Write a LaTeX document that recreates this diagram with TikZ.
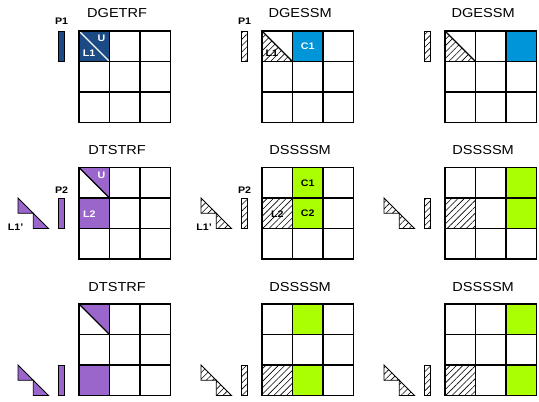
\documentclass[tikz,border=0pt]{standalone}
\usepackage{fontspec}
\setmainfont[FakeStretch=1.12]{Liberation Sans}
\usetikzlibrary{patterns.meta}

\definecolor{lublue}{HTML}{1B4A85}
\definecolor{upblue}{HTML}{0094D8}
\definecolor{tspurple}{HTML}{9A66CC}
\definecolor{ssgreen}{HTML}{AAFF00}

% helpers, used inside a panel scope (one unit = one tile, y downwards)
\newcommand{\tilegrid}{%
  \draw[gridline] (0,0) rectangle (3,3);
  \foreach \k in {1,2} {
    \draw[gridline] (\k,0) -- (\k,3);
    \draw[gridline] (0,\k) -- (3,\k);
  }}
\newcommand{\pivotbar}[2]{\draw[thinline, #2] (-0.66,#1) rectangle (-0.49,#1+1);}
\newcommand{\stairtris}[2]{%
  \draw[thinline, #2] (-2,#1) -- (-2,#1+0.5) -- (-1.5,#1+0.5) -- cycle;
  \draw[thinline, #2] (-1.5,#1+0.5) -- (-1.5,#1+1) -- (-1,#1+1) -- cycle;}
\newcommand{\tile}[3]{\fill[#3] (#2,#1) rectangle (#2+1,#1+1);}

\begin{document}
\begin{tikzpicture}[x=1pt, y=-1pt,
  gridline/.style={line width=1.2pt},
  thinline/.style={line width=0.9pt},
  title/.style={font=\fontsize{13}{15}\selectfont},
  tag/.style={font=\bfseries\fontsize{9.5}{11}\selectfont, inner sep=0pt},
  hatch/.style={pattern={Lines[angle=45, distance=4.5pt, line width=0.6pt]}},
  panel/.style={shift={#1}, x=30.5pt, y=-30.5pt}]
\useasboundingbox (0,0) rectangle (539,402);

% ---- first step: DGETRF, DGESSM, DGESSM
\begin{scope}[panel={(79,31)}]
  \tile{0}{0}{lublue}
  \draw[gridline, white] (0,0) -- (1,1);
  \tilegrid
  \pivotbar{0}{fill=lublue}
  \node[tag] (p1a) at (-0.57,-0.31) {P1};
  \node[tag, white] (u1) at (0.74,0.24) {U};
  \node[tag, white] (l1a) at (0.33,0.73) {L1};
  \node[title] (getrf) at (1.25,-0.6) {DGETRF};
\end{scope}
\begin{scope}[panel={(262,31)}]
  \fill[hatch] (0,0) -- (0,1) -- (1,1) -- cycle;
  \draw[gridline] (0,0) -- (1,1);
  \tile{0}{1}{upblue}
  \tilegrid
  \pivotbar{0}{hatch}
  \node[tag] (p1b) at (-0.57,-0.31) {P1};
  \node[tag] (l1b) at (0.32,0.73) {L1};
  \node[tag, white] (c1a) at (1.5,0.5) {C1};
  \node[title] (gessma) at (1.25,-0.6) {DGESSM};
\end{scope}
\begin{scope}[panel={(445,31)}]
  \fill[hatch] (0,0) -- (0,1) -- (1,1) -- cycle;
  \draw[gridline] (0,0) -- (1,1);
  \tile{0}{2}{upblue}
  \tilegrid
  \pivotbar{0}{hatch}
  \node[title] (gessmb) at (1.25,-0.6) {DGESSM};
\end{scope}

% ---- second step: DTSTRF, DSSSSM, DSSSSM
\begin{scope}[panel={(79,167.5)}]
  \fill[tspurple] (0,0) -- (1,0) -- (1,1) -- cycle;
  \tile{1}{0}{tspurple}
  \draw[gridline] (0,0) -- (1,1);
  \tilegrid
  \pivotbar{1}{fill=tspurple}
  \stairtris{1}{fill=tspurple}
  \node[tag] (p2a) at (-0.57,0.75) {P2};
  \node[tag] (l1pa) at (-2.08,1.95) {L1'};
  \node[tag, white] (u2) at (0.74,0.26) {U};
  \node[tag, white] (l2a) at (0.34,1.53) {L2};
  \node[title] (tstrfa) at (1.25,-0.56) {DTSTRF};
\end{scope}
\begin{scope}[panel={(262,167.5)}]
  \tile{1}{0}{hatch}
  \tile{0}{1}{ssgreen}
  \tile{1}{1}{ssgreen}
  \tilegrid
  \pivotbar{1}{hatch}
  \stairtris{1}{hatch}
  \node[tag] (p2b) at (-0.57,0.75) {P2};
  \node[tag] (l1pb) at (-1.9,1.95) {L1'};
  \node[tag] (l2b) at (0.5,1.53) {L2};
  \node[tag] (c1b) at (1.5,0.5) {C1};
  \node[tag] (c2a) at (1.5,1.5) {C2};
  \node[title] (ssssma) at (1.25,-0.56) {DSSSSM};
\end{scope}
\begin{scope}[panel={(445,167.5)}]
  \tile{1}{0}{hatch}
  \tile{0}{2}{ssgreen}
  \tile{1}{2}{ssgreen}
  \tilegrid
  \pivotbar{1}{hatch}
  \stairtris{1}{hatch}
  \node[title] (ssssmb) at (1.25,-0.56) {DSSSSM};
\end{scope}

% ---- third step: DTSTRF, DSSSSM, DSSSSM
\begin{scope}[panel={(79,304)}]
  \fill[tspurple] (0,0) -- (1,0) -- (1,1) -- cycle;
  \tile{2}{0}{tspurple}
  \draw[gridline] (0,0) -- (1,1);
  \tilegrid
  \pivotbar{2}{fill=tspurple}
  \stairtris{2}{fill=tspurple}
  \node[title] (tstrfb) at (1.25,-0.56) {DTSTRF};
\end{scope}
\begin{scope}[panel={(262,304)}]
  \tile{2}{0}{hatch}
  \tile{0}{1}{ssgreen}
  \tile{2}{1}{ssgreen}
  \tilegrid
  \pivotbar{2}{hatch}
  \stairtris{2}{hatch}
  \node[title] (ssssmc) at (1.25,-0.56) {DSSSSM};
\end{scope}
\begin{scope}[panel={(445,304)}]
  \tile{2}{0}{hatch}
  \tile{0}{2}{ssgreen}
  \tile{2}{2}{ssgreen}
  \tilegrid
  \pivotbar{2}{hatch}
  \stairtris{2}{hatch}
  \node[title] (ssssmd) at (1.25,-0.56) {DSSSSM};
\end{scope}
\end{tikzpicture}
\end{document}
